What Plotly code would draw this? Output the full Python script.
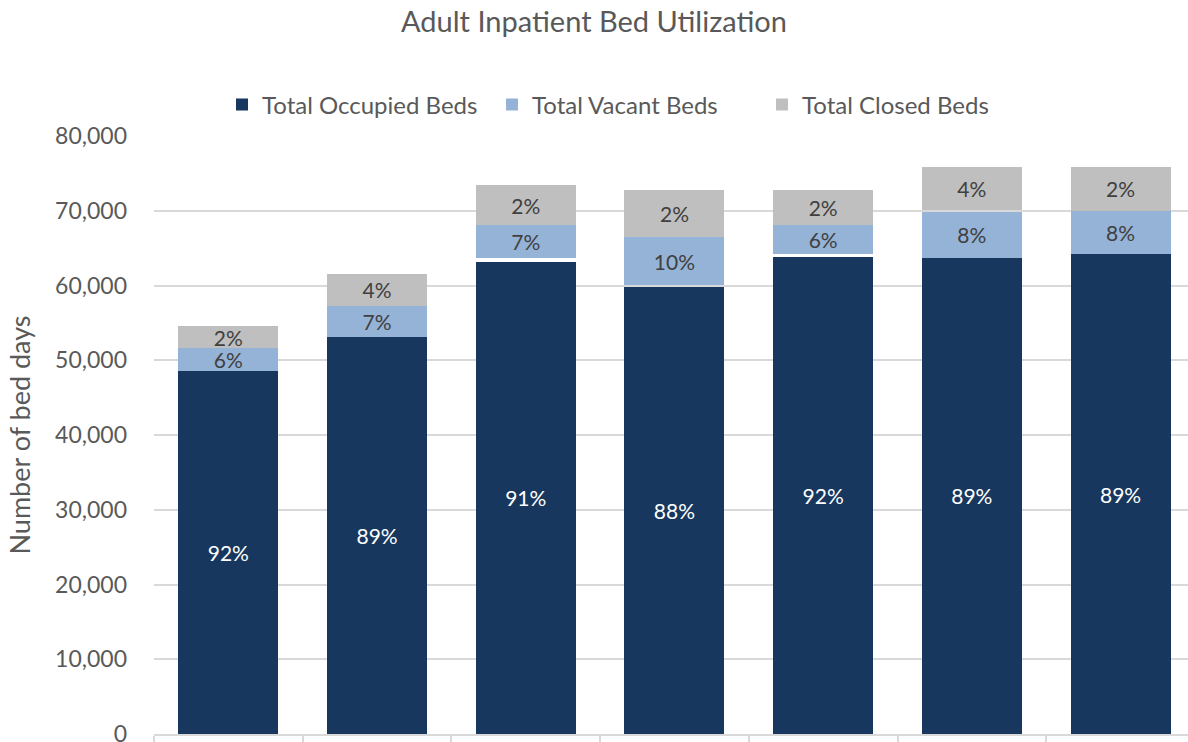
import plotly.graph_objects as go

categories = ["Period 1", "Period 2", "Period 3", "Period 4", "Period 5", "Period 6", "Period 7"]
occupied = [48500, 53100, 63150, 59850, 63800, 63700, 64200]
gap_low = [0, 0, 500, 180, 400, 0, 0]
vacant = [3100, 4180, 4400, 6420, 3900, 6200, 5750]
gap_high = [0, 0, 0, 0, 0, 230, 0]
closed = [2950, 4250, 5410, 6340, 4690, 5770, 5950]

occupied_pct = ["92%", "89%", "91%", "88%", "92%", "89%", "89%"]
vacant_pct = ["6%", "7%", "7%", "10%", "6%", "8%", "8%"]
closed_pct = ["2%", "4%", "2%", "2%", "2%", "4%", "2%"]

y_ticks = [0, 10000, 20000, 30000, 40000, 50000, 60000, 70000, 80000]

FONT = "Lato, 'Open Sans', sans-serif"
GRAY = "#595959"
LBL = 21

fig = go.Figure()
fig.add_trace(go.Bar(x=categories, y=occupied, name="Total Occupied Beds",
                     marker=dict(color="#17375E", line_width=0),
                     text=occupied_pct, textposition="inside", insidetextanchor="middle",
                     constraintext="none",
                     textfont=dict(color="white", size=LBL, family=FONT),
                     hoverinfo="skip"))
fig.add_trace(go.Bar(x=categories, y=gap_low, showlegend=False,
                     marker=dict(color="rgba(0,0,0,0)", line_width=0), hoverinfo="skip"))
fig.add_trace(go.Bar(x=categories, y=vacant, name="Total Vacant Beds",
                     marker=dict(color="#95B3D7", line_width=0),
                     text=vacant_pct, textposition="inside", insidetextanchor="middle",
                     constraintext="none",
                     textfont=dict(color="#404040", size=LBL, family=FONT),
                     hoverinfo="skip"))
fig.add_trace(go.Bar(x=categories, y=gap_high, showlegend=False,
                     marker=dict(color="rgba(0,0,0,0)", line_width=0), hoverinfo="skip"))
fig.add_trace(go.Bar(x=categories, y=closed, name="Total Closed Beds",
                     marker=dict(color="#BFBFBF", line_width=0),
                     text=closed_pct, textposition="inside", insidetextanchor="middle",
                     constraintext="none",
                     textfont=dict(color="#404040", size=LBL, family=FONT),
                     hoverinfo="skip"))

fig.update_layout(
    barmode="stack",
    bargap=0.328,
    width=1188, height=742,
    margin=dict(l=154, r=0, t=136, b=8, autoexpand=False),
    paper_bgcolor="white", plot_bgcolor="white",
    font=dict(family=FONT, color=GRAY, size=23),
    title=dict(text="Adult Inpatient Bed Utilization", x=0.5, xanchor="center",
               y=1 - 22 / 742, yanchor="middle", yref="container",
               font=dict(size=29, color=GRAY, family=FONT)),
    legend=dict(orientation="h", x=627 / 1188, xanchor="center", xref="container",
                y=1 - 105 / 742, yanchor="middle", yref="container",
                font=dict(size=24, color=GRAY, family=FONT),
                entrywidth=225, entrywidthmode="pixels",
                itemclick=False, traceorder="normal"),
    showlegend=True,
)
fig.update_xaxes(range=[-0.5, -0.5 + 1034 / 148.7], showticklabels=False,
                 showline=True, linecolor="#D9D9D9", linewidth=1.5,
                 ticks="outside", tickson="boundaries", ticklen=8, tickcolor="#D9D9D9",
                 tickwidth=1.5, showgrid=False, fixedrange=True)
fig.update_yaxes(range=[0, 80000], tickvals=y_ticks, tickformat=",d",
                 showgrid=True, gridcolor="#D9D9D9", gridwidth=1.5,
                 zeroline=False, showline=False, ticks="",
                 ticklabelstandoff=26, ticklabeloverflow="allow",
                 tickfont=dict(size=23, color=GRAY),
                 title=dict(text="Number of bed days", font=dict(size=27, color=GRAY), standoff=16),
                 fixedrange=True)

fig.write_html("out.html", post_script="document.body.style.margin='0';",
               config={"displayModeBar": False})
